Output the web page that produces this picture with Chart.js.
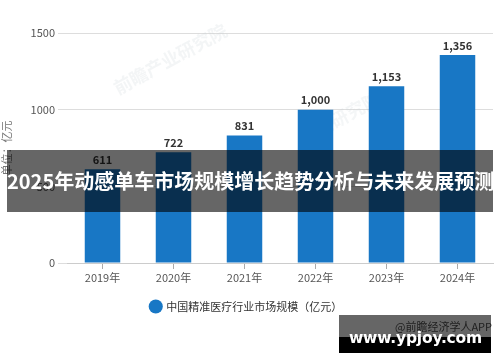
<!DOCTYPE html>
<html>
<head>
<meta charset="utf-8">
<script src="https://cdn.jsdelivr.net/npm/chart.js@4.4.0/dist/chart.umd.min.js"></script>
<style>
  html, body { margin: 0; padding: 0; background: #fff; }
  #wrap { position: relative; width: 500px; height: 362px; overflow: hidden; font-family: "Noto Sans CJK SC", sans-serif; }
  #c { position: absolute; left: 0; top: 0; }
  #banner { position: absolute; left: 7px; top: 150px; width: 486px; height: 62px; background: rgba(0,0,0,0.6);
            color: #fff; font-weight: bold; font-size: 20px; line-height: 62px; text-align: center; white-space: nowrap; letter-spacing: 0px; }
  #wmbox { position: absolute; left: 339px; top: 315px; width: 152px; height: 38px; }
  #wmtop { position: absolute; left: 0; top: 0; width: 152px; height: 22px; background: #666; }
  #wmapp { position: absolute; left: 56px; top: 4px; font-size: 11px; color: #1e1e1e; white-space: nowrap; line-height: 15px; }
  #wmbot { position: absolute; left: 0; top: 22px; width: 152px; height: 16px; background: #000; }
  #wmurl { position: absolute; left: 10px; top: 13px; font-size: 15.5px; font-weight: bold; color: #fff; white-space: nowrap; line-height: 20px; font-family: "DejaVu Sans", sans-serif; letter-spacing: -0.2px; }
</style>
</head>
<body>
<div id="wrap">
  <canvas id="c" width="500" height="362"></canvas>
  <div id="banner">2025年动感单车市场规模增长趋势分析与未来发展预测</div>
  <div id="wmbox">
    <div id="wmtop"><span id="wmapp">@前瞻经济学人APP</span></div>
    <div id="wmbot"></div>
    <div id="wmurl">www.ypjoy.com</div>
  </div>
</div>
<script>
const categories = ['2019年', '2020年', '2021年', '2022年', '2023年', '2024年'];
const marketSize = [611, 722, 831, 1000, 1153, 1356];
const yTicks = [0, 500, 1000, 1500];
const seriesName = '中国精准医疗行业市场规模（亿元）';
const yTitle = '单位：亿元';

const FONT = '"Noto Sans CJK SC", sans-serif';

const valueLabels = {
  id: 'valueLabels',
  afterDatasetsDraw(chart) {
    const ctx = chart.ctx;
    const meta = chart.getDatasetMeta(0);
    ctx.save();
    ctx.font = 'bold 11px ' + FONT;
    ctx.fillStyle = '#333';
    ctx.textAlign = 'center';
    ctx.textBaseline = 'bottom';
    meta.data.forEach((bar, i) => {
      ctx.fillText(marketSize[i].toLocaleString('en-US'), bar.x, bar.y - 4);
    });
    ctx.restore();
  }
};

const faintMark = {
  id: 'faintMark',
  beforeDatasetsDraw(chart) {
    const ctx = chart.ctx;
    ctx.save();
    ctx.fillStyle = 'rgba(200,208,216,0.22)';
    ctx.translate(150, 70);
    ctx.rotate(-0.5);
    ctx.font = 'bold 18px ' + FONT;
    ctx.fillText('前瞻产业研究院', -40, 0);
    ctx.restore();
    ctx.save();
    ctx.fillStyle = 'rgba(200,208,216,0.2)';
    ctx.translate(300, 140);
    ctx.rotate(-0.5);
    ctx.font = 'bold 18px ' + FONT;
    ctx.fillText('产业研究院', 0, 0);
    ctx.restore();
  }
};

new Chart(document.getElementById('c'), {
  type: 'bar',
  data: {
    labels: categories,
    datasets: [{
      label: seriesName,
      data: marketSize,
      backgroundColor: '#1877c5',
      borderWidth: 0,
      barPercentage: 0.5,
      categoryPercentage: 1.0
    }]
  },
  options: {
    responsive: false,
    animation: false,
    devicePixelRatio: 1,
    layout: { padding: { left: 0, right: 7, top: 33, bottom: 40 } },
    plugins: {
      legend: {
        position: 'bottom',
        labels: {
          usePointStyle: true,
          pointStyle: 'circle',
          boxWidth: 10,
          boxHeight: 10,
          padding: 8,
          color: '#333',
          font: { size: 11, family: FONT }
        }
      },
      tooltip: { enabled: false }
    },
    scales: {
      x: {
        grid: { display: true, offset: false, drawOnChartArea: false, drawTicks: true, tickLength: 6, color: '#aaa' },
        border: { display: true, color: '#ccc' },
        ticks: { color: '#555', font: { size: 11, family: FONT }, padding: 2 },
        afterFit(scale) { scale.height = 30; }
      },
      y: {
        min: 0,
        max: 1500,
        afterBuildTicks(scale) { scale.ticks = yTicks.map(v => ({ value: v })); },
        grid: { color: '#ddd', tickLength: 9, drawTicks: true },
        border: { display: false },
        ticks: { color: '#555', font: { size: 11, family: FONT }, padding: 3, callback: (v) => String(v) },
        title: { display: true, text: yTitle, color: '#777', font: { size: 11, family: FONT }, padding: 0 },
        afterFit(scale) { scale.width = 67; }
      }
    }
  },
  plugins: [faintMark, valueLabels]
});
</script>
</body>
</html>
